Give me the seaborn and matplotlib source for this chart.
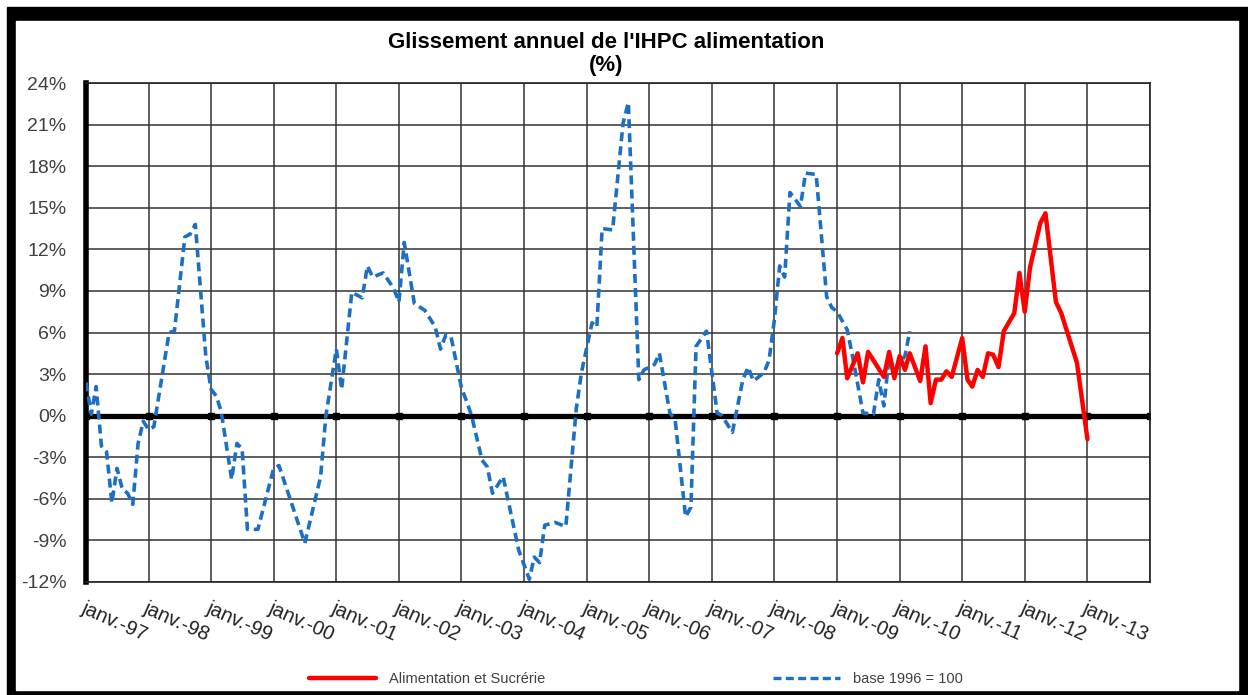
#!/usr/bin/env python3
# -*- coding: utf-8 -*-
"""
Glissement annuel de l'IHPC alimentation (%), two series on a yearly grid.
"""

import pandas as pd
import matplotlib.pyplot as plt
from matplotlib.patches import Rectangle
from matplotlib.lines import Line2D
import seaborn as sns

# Base 1996 = 100 (blue dashed), monthly points
base_dates = [
    "1997-01", "1997-02", "1997-03", "1997-04", "1997-05", "1997-06", "1997-07",
    "1997-08", "1997-09", "1997-10", "1997-11", "1997-12", "1998-01", "1998-02",
    "1998-05", "1998-06", "1998-08", "1998-09", "1998-10", "1998-12", "1999-01",
    "1999-02", "1999-03", "1999-05", "1999-06", "1999-07", "1999-08", "1999-10",
    "2000-01", "2000-02", "2000-07", "2000-10", "2000-11", "2001-01", "2001-02",
    "2001-04", "2001-06", "2001-07", "2001-08", "2001-10", "2001-12", "2002-01",
    "2002-02", "2002-04", "2002-06", "2002-08", "2002-09", "2002-10", "2002-11",
    "2003-01", "2003-02", "2003-03", "2003-05", "2003-06", "2003-07", "2003-09",
    "2003-12", "2004-02", "2004-03", "2004-04", "2004-05", "2004-07", "2004-09",
    "2004-11", "2004-12", "2005-02", "2005-03", "2005-04", "2005-06", "2005-08",
    "2005-09", "2005-11", "2005-12", "2006-02", "2006-03", "2006-05", "2006-06",
    "2006-08", "2006-09", "2006-10", "2006-12", "2007-02", "2007-03", "2007-05",
    "2007-07", "2007-08", "2007-09", "2007-11", "2007-12", "2008-01", "2008-02",
    "2008-03", "2008-04", "2008-06", "2008-07", "2008-09", "2008-11", "2008-12",
    "2009-01", "2009-03", "2009-04", "2009-06", "2009-08", "2009-09", "2009-10",
    "2009-11", "2009-12", "2010-02", "2010-03",
]
base_values = [
    2.4, 0.1, 2.1, -2.2, -2.6, -6.3, -3.8,
    -5.3, -5.6, -6.4, -2.0, -0.4, -1.0, -0.8,
    6.0, 6.1, 12.9, 13.1, 13.8, 4.3, 1.9,
    1.4, 0.3, -4.6, -2.0, -2.4, -8.2, -8.2,
    -3.8, -3.6, -9.2, -4.4, 0.0, 4.8, 1.9,
    8.9, 8.5, 10.8, 10.0, 10.3, 9.2, 8.2,
    12.5, 8.1, 7.6, 6.4, 4.8, 5.8, 5.7,
    2.0, 1.0, 0.0, -3.2, -3.7, -5.6, -4.4,
    -9.7, -11.8, -10.2, -10.6, -7.9, -7.7, -8.0,
    0.5, 3.1, 6.7, 6.4, 13.5, 13.4, 21.1,
    22.6, 2.6, 3.3, 3.7, 4.5, 0.2, -0.3,
    -7.3, -6.6, 5.0, 6.1, 0.2, 0.0, -1.2,
    2.6, 3.5, 2.5, 3.1, 4.0, 6.9, 10.8,
    10.0, 16.1, 15.1, 17.5, 17.4, 8.6, 7.8,
    7.5, 6.2, 4.3, 0.2, 0.1, 2.6, 0.7,
    4.3, 3.3, 4.3, 6.1,
]

# Alimentation et Sucrérie (red solid)
alim_dates = [
    "2009-01", "2009-02", "2009-03", "2009-05", "2009-06", "2009-07", "2009-10",
    "2009-11", "2009-12", "2010-01", "2010-02", "2010-03", "2010-05", "2010-06",
    "2010-07", "2010-08", "2010-09", "2010-10", "2010-11", "2011-01", "2011-02",
    "2011-03", "2011-04", "2011-05", "2011-06", "2011-07", "2011-08", "2011-09",
    "2011-11", "2011-12", "2012-01", "2012-02", "2012-04", "2012-05", "2012-07",
    "2012-08", "2012-11", "2013-01",
]
alim_values = [
    4.5, 5.6, 2.7, 4.5, 2.4, 4.6, 2.8,
    4.6, 2.7, 4.3, 3.3, 4.5, 2.5, 5.0,
    0.9, 2.6, 2.6, 3.2, 2.8, 5.6, 2.6,
    2.1, 3.3, 2.8, 4.5, 4.4, 3.5, 6.1,
    7.4, 10.3, 7.5, 10.7, 13.9, 14.6, 8.2,
    7.4, 3.8, -1.7,
]

# Axis settings
years = list(range(1997, 2015))
y_ticks = list(range(-12, 25, 3))
title = "Glissement annuel de l'IHPC alimentation\n(%)"
label_alim = "Alimentation et Sucrérie"
label_base = "base 1996 = 100"

BLUE = "#1c6fc2"
RED = "#ff0000"
TEXT = "#404040"


def plot_chart() -> None:
    """Draws the chart and saves it as out.png."""
    sns.set_style("white")
    plt.rcParams['font.family'] = ['Liberation Sans', 'DejaVu Sans']

    df_base = pd.DataFrame({"date": pd.to_datetime(base_dates), "value": base_values})
    df_alim = pd.DataFrame({"date": pd.to_datetime(alim_dates), "value": alim_values})

    fig = plt.figure(figsize=(12.48, 6.95), dpi=100)
    fig.patch.set_facecolor("white")

    # Black outer frame with white inner panel
    W, H = 1248, 695
    fig.patches.append(Rectangle((7 / W, 0), 1 - 7 / W, 1 - 7 / H,
                                 transform=fig.transFigure, color="black", zorder=-2))
    fig.patches.append(Rectangle((16 / W, 5 / H), (1238 - 16) / W, (690 - 21) / H,
                                 transform=fig.transFigure, color="white", zorder=-1))

    ax = fig.add_axes([86 / W, 113 / H, (1150 - 86) / W, (582 - 83) / H])
    ax.set_facecolor("white")

    # Series
    sns.lineplot(data=df_base, x="date", y="value", ax=ax, color=BLUE,
                 linewidth=2.6, linestyle=(0, (2.5, 1.4)), zorder=3)
    sns.lineplot(data=df_alim, x="date", y="value", ax=ax, color=RED,
                 linewidth=3.2, zorder=4)

    # Axes limits and ticks
    tick_dates = pd.to_datetime([f"{y}-01-01" for y in years])
    ax.set_xlim(tick_dates[0], tick_dates[-1])
    ax.set_ylim(-12, 24)
    ax.set_yticks(y_ticks)
    ax.set_yticklabels([f"{v}%" for v in y_ticks], fontsize=14, color=TEXT)
    ax.set_xticks(tick_dates)
    ax.set_xticklabels([f"janv.-{str(y)[2:]}" for y in years[:-1]] + [""],
                       fontsize=14.5, color="#222222", rotation=-24,
                       ha="left", va="top", rotation_mode="anchor")
    ax.tick_params(axis="x", length=0, pad=12)
    ax.tick_params(axis="y", direction="in", length=4, width=2, color="black", pad=14)
    ax.set_xlabel("")
    ax.set_ylabel("")

    # Grid and zero line
    ax.grid(True, color="#333333", linewidth=1.1)
    ax.set_axisbelow(True)
    ax.axhline(0, color="black", linewidth=3.8, zorder=2)
    ax.plot(tick_dates, [0] * len(tick_dates), "s", color="black", markersize=5, zorder=2)

    for side in ["top", "right", "bottom"]:
        ax.spines[side].set_color("#222222")
        ax.spines[side].set_linewidth(1.2)
    ax.spines["left"].set_color("black")
    ax.spines["left"].set_linewidth(4)

    # Title
    fig.text(606 / W, 1 - 32 / H, title, ha="center", va="top", fontsize=16,
             fontweight="bold", color="black", linespacing=1.1)

    # Legend
    handles = [Line2D([], [], color=RED, linewidth=3.2),
               Line2D([], [], color=BLUE, linewidth=2.4, linestyle=(0, (2.4, 1.3)))]
    fig.legend(handles, [label_alim, label_base], loc="center",
               bbox_to_anchor=(636 / W, 16 / H), ncol=2, frameon=False,
               fontsize=10.5, handlelength=4.6, handletextpad=0.9,
               columnspacing=15.6, labelcolor=TEXT)

    plt.savefig("out.png", dpi=100)


if __name__ == "__main__":
    plot_chart()
